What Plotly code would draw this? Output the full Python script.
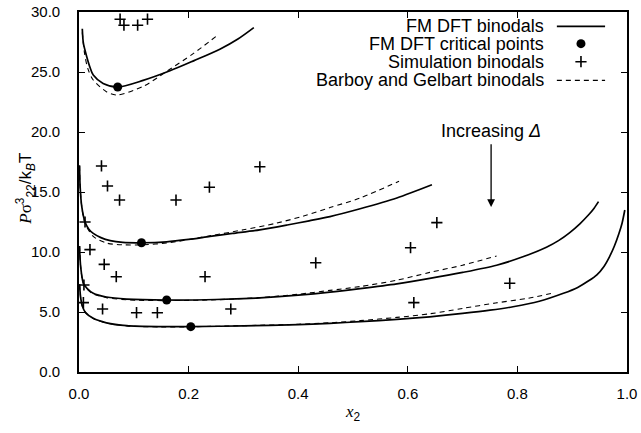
import plotly.graph_objects as go

# ---------------- data ----------------
# FM DFT binodals (solid), four values of Delta
dft1_x = [0.006, 0.008, 0.014, 0.020, 0.026, 0.044, 0.0706, 0.117, 0.166, 0.210, 0.257, 0.290, 0.319]
dft1_y = [28.6, 27.4, 26.3, 25.4, 24.75, 24.05, 23.75, 24.3, 25.1, 25.95, 26.9, 27.75, 28.7]

dft2_x = [0.001, 0.002, 0.005, 0.011, 0.018, 0.026, 0.040, 0.057, 0.080, 0.114, 0.160, 0.200, 0.239, 0.280, 0.330, 0.380, 0.420, 0.458, 0.513, 0.580, 0.644]
dft2_y = [17.2, 15.5, 13.8, 12.5, 11.9, 11.55, 11.2, 10.95, 10.8, 10.77, 10.85, 11.05, 11.3, 11.55, 11.85, 12.25, 12.6, 12.95, 13.6, 14.5, 15.6]

dft3_x = [0.001, 0.003, 0.008, 0.015, 0.026, 0.050, 0.087, 0.160, 0.250, 0.330, 0.400, 0.458, 0.513, 0.580, 0.640, 0.700, 0.762, 0.810, 0.853, 0.875, 0.895, 0.914, 0.930, 0.940, 0.948]
dft3_y = [10.5, 8.8, 7.4, 6.95, 6.56, 6.25, 6.08, 6.0, 6.04, 6.18, 6.4, 6.65, 6.95, 7.35, 7.8, 8.3, 8.9, 9.6, 10.4, 10.95, 11.6, 12.35, 13.1, 13.65, 14.2]

dft4_x = [0.001, 0.003, 0.006, 0.012, 0.026, 0.050, 0.087, 0.150, 0.204, 0.300, 0.400, 0.458, 0.513, 0.580, 0.640, 0.700, 0.750, 0.792, 0.840, 0.884, 0.910, 0.930, 0.945, 0.958, 0.968, 0.977, 0.985, 0.991, 0.996]
dft4_y = [7.3, 6.2, 5.5, 4.95, 4.47, 4.1, 3.86, 3.78, 3.78, 3.85, 3.95, 4.06, 4.19, 4.38, 4.6, 4.88, 5.15, 5.44, 5.9, 6.56, 7.05, 7.6, 8.1, 8.8, 9.6, 10.5, 11.5, 12.4, 13.5]

# Barboy and Gelbart binodals (dashed)
bg1_x = [0.006, 0.010, 0.016, 0.026, 0.050, 0.069, 0.117, 0.160, 0.209, 0.251]
bg1_y = [28.3, 26.6, 25.3, 24.33, 23.36, 23.08, 23.8, 25.05, 26.55, 28.0]

bg2_x = [0.001, 0.002, 0.005, 0.011, 0.026, 0.050, 0.080, 0.114, 0.160, 0.239, 0.300, 0.360, 0.410, 0.458, 0.513, 0.584]
bg2_y = [17.2, 15.5, 13.8, 12.4, 11.3, 10.75, 10.6, 10.6, 10.75, 11.35, 11.85, 12.4, 13.0, 13.7, 14.5, 15.9]

bg3_x = [0.001, 0.003, 0.008, 0.015, 0.026, 0.050, 0.087, 0.160, 0.250, 0.330, 0.400, 0.458, 0.513, 0.580, 0.640, 0.700, 0.762]
bg3_y = [10.5, 8.8, 7.35, 6.9, 6.5, 6.2, 6.02, 5.95, 6.02, 6.2, 6.48, 6.8, 7.12, 7.65, 8.3, 8.9, 9.67]

bg4_x = [0.001, 0.003, 0.006, 0.012, 0.026, 0.050, 0.087, 0.150, 0.204, 0.300, 0.400, 0.458, 0.513, 0.580, 0.640, 0.700, 0.760, 0.820, 0.867]
bg4_y = [7.3, 6.2, 5.5, 4.95, 4.45, 4.08, 3.84, 3.76, 3.77, 3.86, 3.98, 4.1, 4.28, 4.55, 4.85, 5.3, 5.75, 6.15, 6.6]

# FM DFT critical points
crit_x = [0.0706, 0.114, 0.160, 0.204]
crit_y = [23.75, 10.77, 6.0, 3.78]

# Simulation binodals
sim_x = [0.075, 0.082, 0.107, 0.125,
         0.041, 0.052, 0.074, 0.177, 0.238, 0.330,
         0.011,
         0.020, 0.046, 0.068, 0.230, 0.432, 0.605, 0.653,
         0.009,
         0.008, 0.043, 0.105, 0.143, 0.277, 0.611, 0.786]
sim_y = [29.4, 28.9, 28.9, 29.4,
         17.17, 15.5, 14.33, 14.33, 15.4, 17.1,
         12.5,
         10.2, 8.97, 7.94, 7.94, 9.1, 10.36, 12.45,
         7.25,
         5.78, 5.25, 4.94, 4.94, 5.25, 5.78, 7.39]

x_ticks = [0.0, 0.2, 0.4, 0.6, 0.8, 1.0]
y_ticks = [0, 5, 10, 15, 20, 25, 30]

legend_labels = ["FM DFT binodals", "FM DFT critical points",
                 "Simulation binodals", "Barboy and Gelbart binodals"]

arrow_x = 0.752
arrow_tip_y = 13.75
arrow_tail_y = 19.1
arrow_text = "Increasing <i>Δ</i>"

# ---------------- figure ----------------
FONT = "Liberation Sans, Arial, Helvetica, sans-serif"

fig = go.Figure()

solid = dict(color="black", width=1.7, shape="spline", smoothing=0.8)
dashed = dict(color="black", width=1.1, dash="5px,4px", shape="spline", smoothing=0.8)

for xs, ys in [(dft1_x, dft1_y), (dft2_x, dft2_y), (dft3_x, dft3_y), (dft4_x, dft4_y)]:
    fig.add_trace(go.Scatter(x=xs, y=ys, mode="lines", line=solid,
                             showlegend=False, hoverinfo="skip"))
for xs, ys in [(bg1_x, bg1_y), (bg2_x, bg2_y), (bg3_x, bg3_y), (bg4_x, bg4_y)]:
    fig.add_trace(go.Scatter(x=xs, y=ys, mode="lines", line=dashed,
                             showlegend=False, hoverinfo="skip"))

plus_marker = dict(symbol="cross-thin", size=8, line=dict(color="black", width=1.6))
dot_marker = dict(symbol="circle", size=9, color="black")

fig.add_trace(go.Scatter(x=sim_x, y=sim_y, mode="markers", marker=plus_marker,
                         showlegend=False))
fig.add_trace(go.Scatter(x=crit_x, y=crit_y, mode="markers", marker=dot_marker,
                         showlegend=False))

# ---- hand-made key (text left, sample right, as in the reference) ----
key_text_x = 0.850
key_rows = [0.960, 0.912, 0.862, 0.810]
key_x0, key_x1 = 0.872, 0.960
key_xc = (key_x0 + key_x1) / 2

for lbl, ky in zip(legend_labels, key_rows):
    fig.add_annotation(x=key_text_x, y=ky, xref="paper", yref="paper",
                       text=lbl, showarrow=False, xanchor="right", yanchor="middle",
                       borderpad=0, font=dict(family=FONT, size=18, color="black"))

fig.add_trace(go.Scatter(x=[key_x0, key_x1], y=[key_rows[0]] * 2, mode="lines",
                         line=dict(color="black", width=1.7),
                         xaxis="x2", yaxis="y2", showlegend=False, hoverinfo="skip"))
fig.add_trace(go.Scatter(x=[key_x0, key_x1], y=[key_rows[3]] * 2, mode="lines",
                         line=dict(color="black", width=1.1, dash="5px,4px"),
                         xaxis="x2", yaxis="y2", showlegend=False, hoverinfo="skip"))
fig.add_trace(go.Scatter(x=[key_xc], y=[key_rows[1]], mode="markers", marker=dot_marker,
                         xaxis="x2", yaxis="y2", showlegend=False, hoverinfo="skip"))
fig.add_trace(go.Scatter(x=[key_xc], y=[key_rows[2]], mode="markers", marker=plus_marker,
                         xaxis="x2", yaxis="y2", showlegend=False, hoverinfo="skip"))

# ---- arrow + label ----
fig.add_annotation(x=arrow_x, y=arrow_tip_y, ax=arrow_x, ay=arrow_tail_y,
                   xref="x", yref="y", axref="x", ayref="y",
                   showarrow=True, arrowhead=2, arrowsize=1.2, arrowwidth=1.3,
                   arrowcolor="black", text="")
fig.add_annotation(x=arrow_x, y=arrow_tail_y + 1.0, xref="x", yref="y",
                   text=arrow_text, showarrow=False, yanchor="middle",
                   font=dict(family=FONT, size=18, color="black"))

# ---- axis titles ----
ytitle = ('<span style="font-family:Liberation Serif"><i>P</i>σ</span>'
          '<sup>3</sup><sub>22</sub>/k<sub><i>B</i></sub>T')
fig.add_annotation(x=-0.098, y=0.51, xref="paper", yref="paper", text=ytitle,
                   textangle=-90, showarrow=False, xanchor="center", yanchor="middle",
                   font=dict(family=FONT, size=17, color="black"))
fig.add_annotation(x=0.5, y=-0.114, xref="paper", yref="paper",
                   text='<span style="font-family:Liberation Serif"><i>x</i></span><sub>2</sub>',
                   showarrow=False, xanchor="center", yanchor="middle",
                   font=dict(family=FONT, size=17, color="black"))

axis_common = dict(showline=True, linecolor="black", linewidth=1.6, mirror="ticks",
                   ticks="inside", ticklen=6, tickwidth=1.3, tickcolor="black",
                   showgrid=False, zeroline=False, automargin=False,
                   tickfont=dict(family=FONT, size=15, color="black"))

fig.update_layout(
    width=641, height=433,
    margin=dict(l=79, r=14, t=12, b=61, autoexpand=False),
    paper_bgcolor="white", plot_bgcolor="white",
    showlegend=False,
    xaxis=dict(range=[0, 1], tickvals=x_ticks, tickformat=".1f",
               ticklabelstandoff=7, **axis_common),
    yaxis=dict(range=[0, 30], tickvals=y_ticks, tickformat=".1f",
               ticklabelstandoff=14, **axis_common),
    xaxis2=dict(range=[0, 1], overlaying="x", visible=False, fixedrange=True),
    yaxis2=dict(range=[0, 1], overlaying="y", visible=False, fixedrange=True),
)

fig.write_html("out.html")
